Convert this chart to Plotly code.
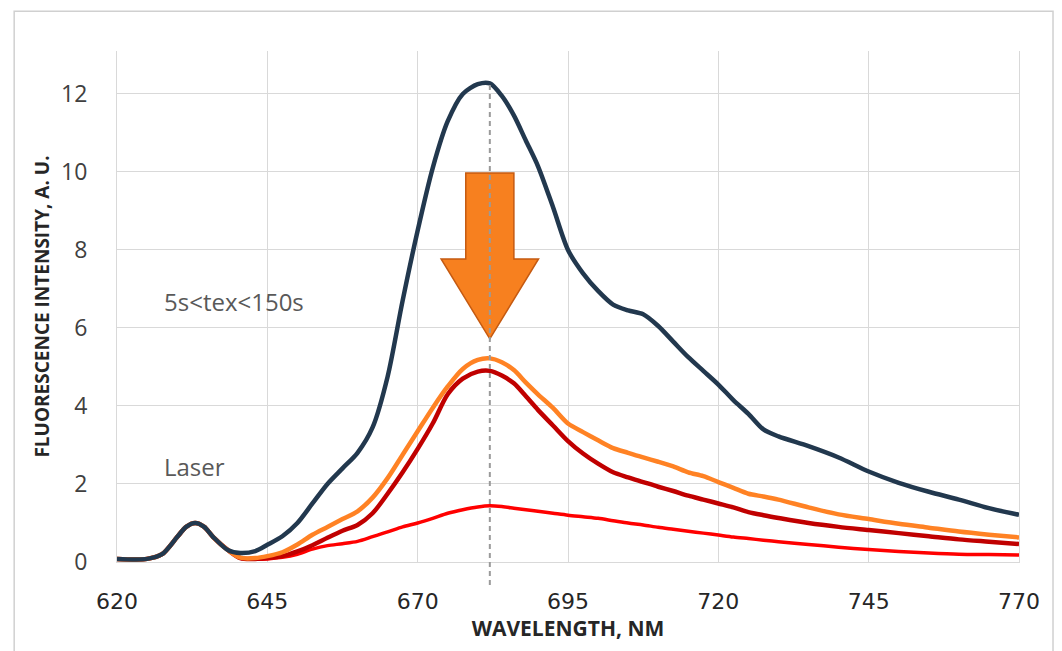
import plotly.graph_objects as go

# ---------------- data ----------------
wavelength = [620, 625, 627.5, 630, 631.5, 633, 634.5, 636, 638.5, 640.5, 643, 645, 647.5, 650,
              652.5, 655, 657.5, 660, 662.5, 665, 667.5, 670, 672.5, 675, 677.5, 680, 682,
              684, 686, 688, 690, 692.5, 695, 697.5, 700, 702.5, 705, 707.5, 710, 712.5,
              715, 717.5, 720, 722.5, 725, 727.5, 730, 735, 740, 745, 750, 755, 760, 765, 770]

laser_part = [0.08, 0.08, 0.2, 0.64, 0.9, 1.0, 0.9, 0.64, 0.3]

dark_tail = [0.23, 0.28, 0.44, 0.66, 1.0, 1.5, 2.0, 2.4, 2.8, 3.45, 4.75, 6.7, 8.5, 10.1,
             11.3, 12.0, 12.25, 12.27, 11.95, 11.45, 10.8, 10.15, 9.1, 8.0, 7.4, 6.95, 6.6,
             6.45, 6.35, 6.05, 5.65, 5.25, 4.9, 4.55, 4.15, 3.8, 3.4, 3.22, 2.97, 2.68,
             2.32, 2.03, 1.8, 1.6, 1.38, 1.21]
orange_tail = [0.11, 0.1, 0.15, 0.25, 0.45, 0.7, 0.9, 1.1, 1.3, 1.65, 2.15, 2.75, 3.35, 3.95,
               4.5, 4.95, 5.18, 5.22, 5.12, 4.92, 4.6, 4.3, 3.95, 3.55, 3.33, 3.12, 2.92,
               2.8, 2.68, 2.57, 2.45, 2.3, 2.2, 2.05, 1.9, 1.75, 1.68, 1.6, 1.4, 1.22, 1.1,
               0.98, 0.88, 0.78, 0.7, 0.63]
darkred_tail = [0.1, 0.08, 0.1, 0.15, 0.27, 0.43, 0.62, 0.8, 0.95, 1.25, 1.75, 2.3, 2.9, 3.55,
                4.3, 4.7, 4.88, 4.9, 4.78, 4.58, 4.25, 3.9, 3.5, 3.1, 2.78, 2.52, 2.3, 2.17,
                2.05, 1.93, 1.82, 1.7, 1.6, 1.5, 1.4, 1.28, 1.2, 1.13, 1.0, 0.9, 0.82, 0.74,
                0.66, 0.58, 0.52, 0.46]
red_tail = [0.1, 0.07, 0.08, 0.12, 0.2, 0.33, 0.42, 0.47, 0.53, 0.65, 0.77, 0.9, 1.0, 1.12,
            1.25, 1.34, 1.41, 1.44, 1.42, 1.38, 1.34, 1.3, 1.25, 1.2, 1.16, 1.12, 1.06, 1.0,
            0.95, 0.89, 0.84, 0.79, 0.74, 0.69, 0.64, 0.6, 0.56, 0.52, 0.45, 0.38, 0.32,
            0.27, 0.23, 0.2, 0.19, 0.18]

series_names = ["red", "dark red", "orange", "dark"]
series_values = [laser_part + red_tail, laser_part + darkred_tail,
                 laser_part + orange_tail, laser_part + dark_tail]
series_colors = ["#FF0000", "#C00000", "#FF8224", "#22384E"]
series_widths = [3.5, 4.5, 4.5, 4.5]

x_ticks = [620, 645, 670, 695, 720, 745, 770]
y_ticks = [0, 2, 4, 6, 8, 10, 12]
x_range = [620, 770]
y_range = [0, 13.1]

label_texts = ["5s&lt;tex&lt;150s", "Laser"]
label_x = [627.4, 627.4]
label_y = [6.67, 2.45]

# ---------------- figure ----------------
fig = go.Figure()
for name, vals, col, w in zip(series_names, series_values, series_colors, series_widths):
    fig.add_trace(go.Scatter(x=wavelength, y=vals, mode="lines", name=name,
                             line=dict(color=col, width=w, shape="spline", smoothing=0.8),
                             hoverinfo="skip"))

grid_col = "#D9D9D9"
fig.update_layout(
    width=1054, height=643,
    margin=dict(l=109, r=43, t=43, b=89),
    paper_bgcolor="white", plot_bgcolor="white",
    showlegend=False,
    font=dict(family="Open Sans", color="#404040"),
    xaxis=dict(range=x_range, tickvals=x_ticks, ticktext=[str(v) for v in x_ticks],
               showgrid=True, gridcolor=grid_col, gridwidth=1,
               showline=True, linecolor=grid_col, linewidth=1,
               zeroline=False, ticks="", ticklabelstandoff=20,
               tickfont=dict(size=22, color="#262626", family="DejaVu Sans"),
               title=dict(text="<b>WAVELENGTH, NM</b>", standoff=4,
                          font=dict(size=21, color="#262626", family="Open Sans"))),
    yaxis=dict(range=y_range, tickvals=y_ticks,
               showgrid=True, gridcolor=grid_col, gridwidth=1,
               showline=True, linecolor=grid_col, linewidth=1, mirror=True,
               zeroline=False, ticks="", ticklabelstandoff=24,
               tickfont=dict(size=23, color="#404040", family="Open Sans"),
               title=dict(text="<b>FLUORESCENCE INTENSITY, A. U.</b>", standoff=6,
                          font=dict(size=19, color="#262626", family="Open Sans"))),
)

# annotations
for t, xx, yy in zip(label_texts, label_x, label_y):
    fig.add_annotation(x=xx, y=yy, text=t, showarrow=False, xanchor="left",
                       yanchor="middle", font=dict(size=24, color="#595959", family="Open Sans"))

# arrow (down) drawn in data coordinates
peak_idx = series_values[3].index(max(series_values[3]))
peak_wl = wavelength[peak_idx]
peak_val = series_values[3][peak_idx]
shaft_half, head_half = 4.0, 8.1
shaft_top, head_base, tip = 9.97, 7.77, 5.72
arrow_path = (f"M {peak_wl - shaft_half},{shaft_top} L {peak_wl + shaft_half},{shaft_top} "
              f"L {peak_wl + shaft_half},{head_base} L {peak_wl + head_half},{head_base} "
              f"L {peak_wl},{tip} L {peak_wl - head_half},{head_base} "
              f"L {peak_wl - shaft_half},{head_base} Z")
fig.add_shape(type="path", path=arrow_path, xref="x", yref="y",
              fillcolor="#F7801F", line=dict(color="#C55A11", width=1.5), layer="above")

# dashed vertical marker at the peak, extending below axis
xp = (peak_wl - x_range[0]) / (x_range[1] - x_range[0])
fig.add_shape(type="line", xref="paper", yref="paper",
              x0=xp, x1=xp, y0=-0.045, y1=peak_val / y_range[1],
              line=dict(color="#9A9A9A", width=2, dash="5px,4px"), layer="above")

# outer frame
fig.add_shape(type="rect", xref="paper", yref="paper", x0=-0.114, x1=1.0377,
              y0=-0.4, y1=1.078, line=dict(color="#D0D0D0", width=1.5), layer="below")

fig.write_html("out.html")
